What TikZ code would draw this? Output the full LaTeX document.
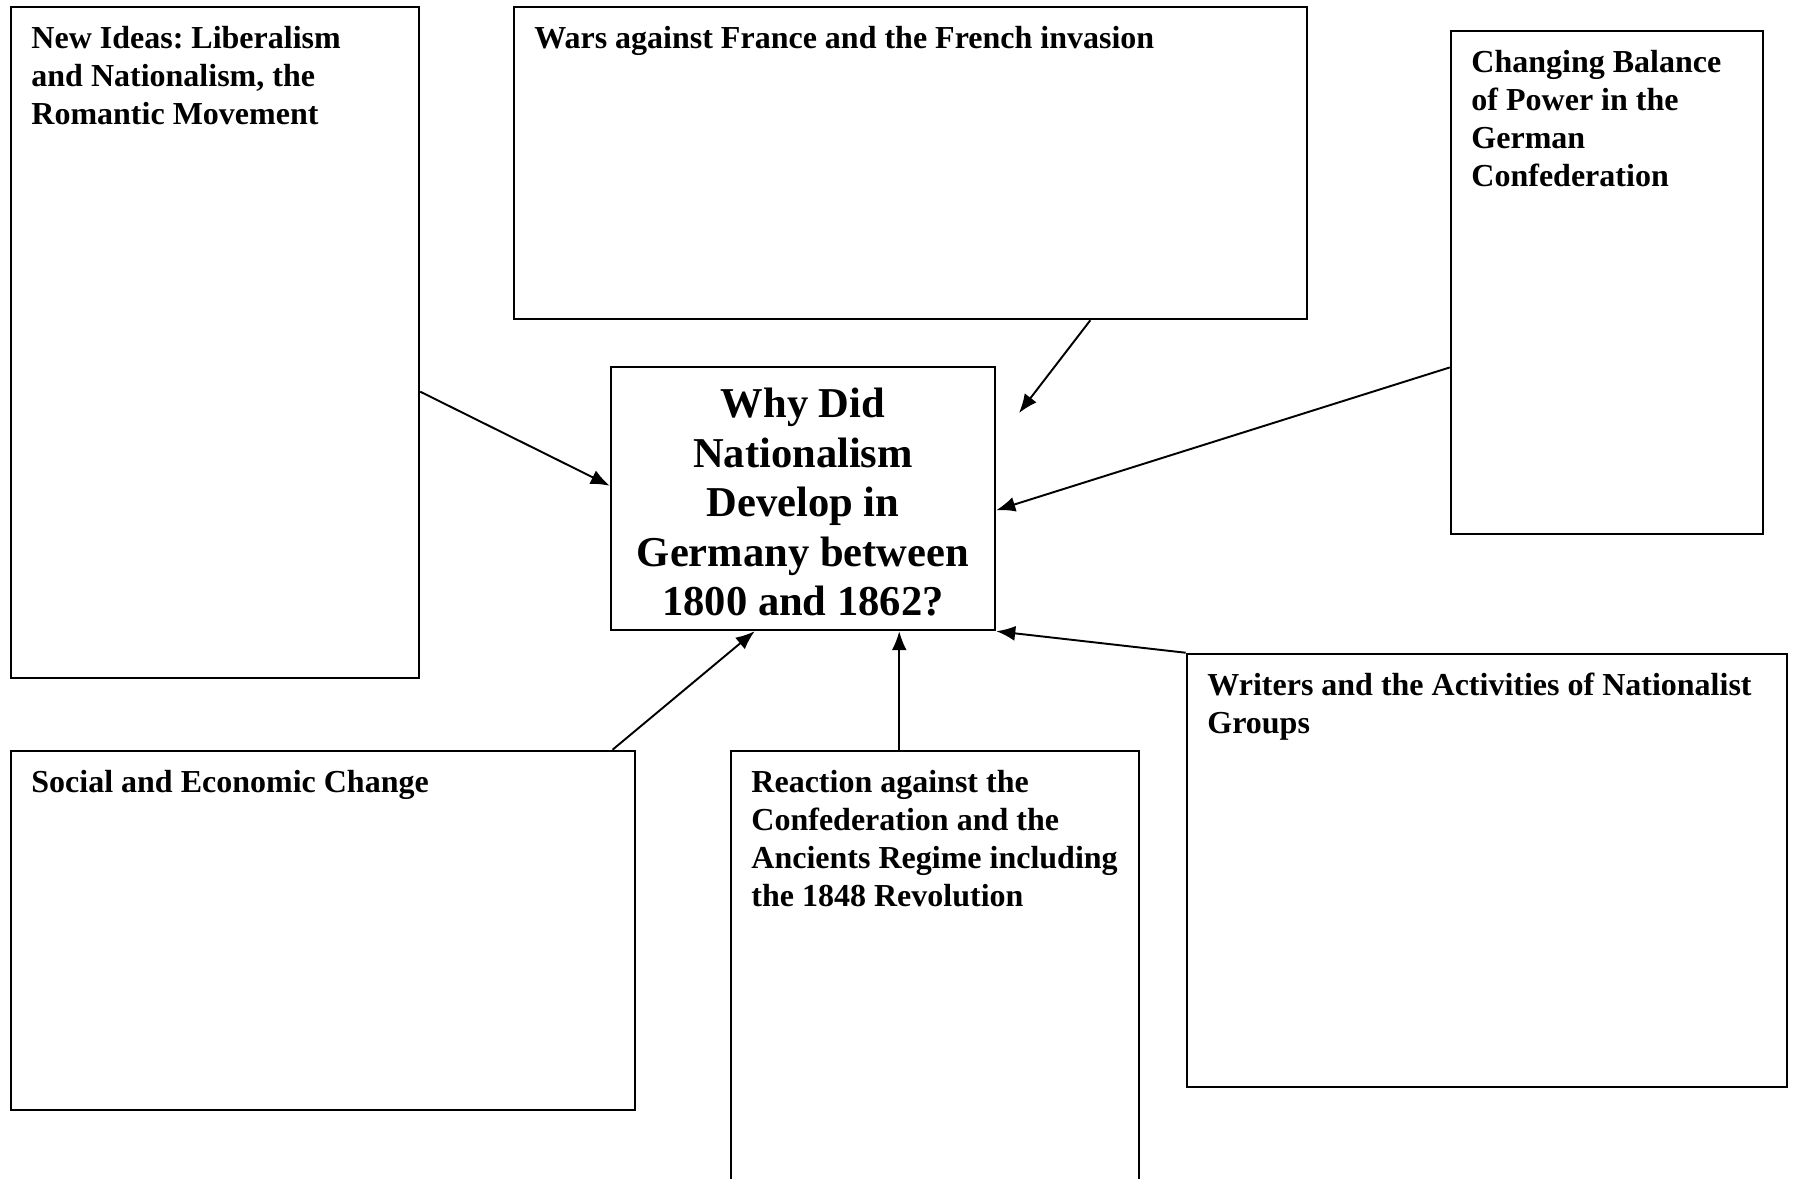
\documentclass[tikz,border=0pt]{standalone}
\usepackage{fontspec}
\setmainfont{Liberation Serif}
\usetikzlibrary{calc, arrows.meta}
\frenchspacing

\begin{document}
\begin{tikzpicture}[x=0.01cm, y=-0.01cm]
    \tikzstyle{box}=[draw=black,line width=0.65pt,inner sep=0pt]
    \tikzstyle{boxtitle}=[anchor=north west,inner sep=0pt,align=left,font=\bfseries\fontsize{9.1}{10.8}\selectfont]
    \tikzstyle{link}=[line width=0.55pt,-{Latex[length=0.19cm,width=0.15cm]}]

    \useasboundingbox (0,0) rectangle (1796,1178);
    \clip (0,0) rectangle (1796,1178);

    \node (ideas)[box,minimum width=4.08cm,minimum height=6.71cm] at (215,342.5) {};
    \node (wars)[box,minimum width=7.93cm,minimum height=3.12cm] at (910.5,163) {};
    \node (balance)[box,minimum width=3.12cm,minimum height=5.03cm] at (1607,282.5) {};
    \node (ctr)[box,minimum width=3.84cm,minimum height=2.63cm] at (803,498.5) {};
    \node (social)[box,minimum width=6.24cm,minimum height=3.59cm] at (323,930.5) {};
    \node (reaction)[box,minimum width=4.08cm,minimum height=4.50cm] at (935,976) {};
    \node (writers)[box,minimum width=6.00cm,minimum height=4.33cm] at (1487,870.5) {};

    % texts
    \node (ideas-t)[boxtitle] at ($(ideas.north west)+(21,19.5)$) {New Ideas: Liberalism\\and Nationalism, the\\Romantic Movement};
    \node (wars-t)[boxtitle] at ($(wars.north west)+(21,19.5)$) {Wars against France and the French invasion};
    \node (balance-t)[boxtitle] at ($(balance.north west)+(21,19.5)$) {Changing Balance\\of Power in the\\German\\Confederation};
    \node (social-t)[boxtitle] at ($(social.north west)+(21,19.5)$) {Social and Economic Change};
    \node (reaction-t)[boxtitle] at ($(reaction.north west)+(21,19.5)$) {Reaction against the\\Confederation and the\\Ancients Regime including\\the 1848 Revolution};
    \node (writers-t)[boxtitle] at ($(writers.north west)+(21,19.5)$) {Writers and the Activities of Nationalist\\Groups};
    \node (ctr-t)[anchor=north,inner sep=0pt,align=center,font=\bfseries\fontsize{12.1}{14.1}\selectfont] at ($(ctr.north)+(0,21.5)$) {Why Did\\Nationalism\\Develop in\\Germany between\\1800 and 1862?};

    % arrows into the question
    \coordinate (wtip) at (1019,413);
    \coordinate (rtip) at ($(ctr.south west)!0.749!(ctr.south east)$);
    \draw[link] ($(ideas.north east)!0.573!(ideas.south east)$) -- ($(ctr.north west)!0.452!(ctr.south west)$);
    \draw[link] ($(wars.south west)!0.726!(wars.south east)$) -- (wtip);
    \draw[link] ($(balance.north west)!0.668!(balance.south west)$) -- ($(ctr.north east)!0.544!(ctr.south east)$);
    \draw[link] ($(social.north west)!0.962!(social.north east)$) -- ($(ctr.south west)!0.375!(ctr.south east)$);
    \draw[link] (reaction.north -| rtip) -- (rtip);
    \draw[link] (writers.north west) -- (ctr.south east);
\end{tikzpicture}
\end{document}
